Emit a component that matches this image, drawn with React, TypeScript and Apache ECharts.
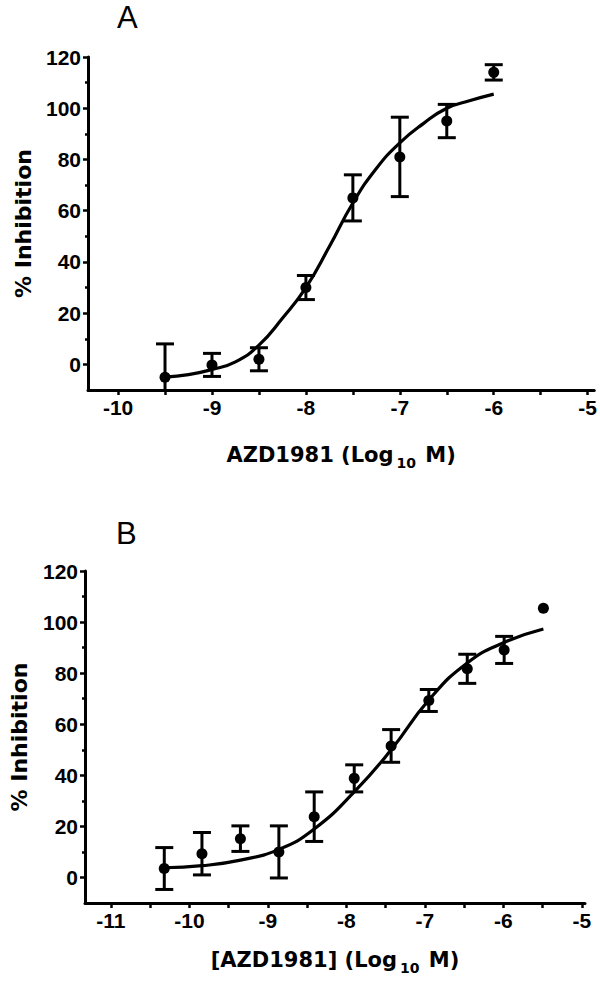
import React, { useEffect, useRef } from 'react';
import * as echarts from 'echarts';

// ---------- Panel A data ----------
const xA = [-9.5, -9, -8.5, -8, -7.5, -7, -6.5, -6];
const yA = [-5, -0.2, 2, 30, 65, 81, 95, 114];
const errA = [13, 4.5, 4.5, 4.7, 9, 15.5, 6.5, 3];
const curveXA = [-9.5, -9.25, -9, -8.75, -8.5, -8.25, -8, -7.75, -7.5, -7.25, -7, -6.75, -6.5, -6.25, -6];
const curveYA = [-5, -4, -2, 1, 7.5, 18, 30, 46, 63, 76.5, 86.5, 94, 100, 103, 105.5];

// ---------- Panel B data ----------
const xB = [-10.32, -9.84, -9.35, -8.86, -8.41, -7.9, -7.43, -6.95, -6.46, -5.99, -5.49];
const yB = [3.5, 9.3, 15.2, 10, 23.8, 38.8, 51.5, 69.3, 81.7, 89.1, 105.4];
const errB = [8.2, 8.3, 5, 10.2, 9.7, 5.3, 6.4, 4.3, 5.7, 5.3, 0];
const curveXB = [-10.32, -9.84, -9.35, -8.86, -8.41, -7.9, -7.43, -6.95, -6.46, -5.99, -5.49];
const curveYB = [3.8, 4.6, 6.8, 11, 19, 33.5, 50, 69.5, 84, 92, 97.3];

// ---------- Axis ticks / labels ----------
const yLabels = [0, 20, 40, 60, 80, 100, 120];
const yMinorTicks = [10, 30, 50, 70, 90, 110];
const xTicksA = [-10, -9.5, -9, -8.5, -8, -7.5, -7, -6.5, -6, -5.5, -5];
const xLabelsA = [-10, -9, -8, -7, -6, -5];
const xTicksB = [-11, -10.5, -10, -9.5, -9, -8.5, -8, -7.5, -7, -6.5, -6, -5.5, -5];
const xLabelsB = [-11, -10, -9, -8, -7, -6, -5];

const xNameA = 'AZD1981 (Log{sub|10} M)';
const xNameB = '[AZD1981] (Log{sub|10} M)';
const yName = '% Inhibition';

const FONT = '"Liberation Sans", Arial, sans-serif';
const TFONT = '"DejaVu Sans", sans-serif';

const zip = (xs: number[], ys: number[]) => xs.map((x, i) => [x, ys[i]]);
const zip3 = (xs: number[], ys: number[], es: number[]) => xs.map((x, i) => [x, ys[i], es[i]]);

function errorSeries(axisIdx: number, data: number[][]) {
  return {
    type: 'custom',
    xAxisIndex: axisIdx,
    yAxisIndex: axisIdx * 2,
    clip: true,
    z: 3,
    data,
    renderItem: (params: any, api: any) => {
      const x = api.value(0);
      const y = api.value(1);
      const e = api.value(2);
      if (!e) return { type: 'group', children: [] };
      const t = api.coord([x, y + e]);
      const b = api.coord([x, y - e]);
      const hw = 9;
      const style = { stroke: '#000', lineWidth: 3 };
      return {
        type: 'group',
        children: [
          { type: 'line', shape: { x1: t[0], y1: t[1], x2: b[0], y2: b[1] }, style },
          { type: 'line', shape: { x1: t[0] - hw, y1: t[1], x2: t[0] + hw, y2: t[1] }, style },
          { type: 'line', shape: { x1: b[0] - hw, y1: b[1], x2: b[0] + hw, y2: b[1] }, style },
        ],
      };
    },
  };
}

function xAxisCfg(grid: number, min: number, max: number, ticks: number[], labels: number[], name: string, gap: number) {
  return {
    type: 'value',
    gridIndex: grid,
    min,
    max,
    axisLine: { onZero: false, lineStyle: { color: '#000', width: 3 } },
    axisTick: { customValues: ticks, length: 5, lineStyle: { color: '#000', width: 2.5 } },
    axisLabel: { customValues: labels, fontFamily: FONT, fontWeight: 'bold', fontSize: 21, color: '#000', margin: 7 },
    splitLine: { show: false },
    name,
    nameLocation: 'middle',
    nameGap: gap,
    nameTextStyle: {
      fontFamily: TFONT,
      fontWeight: 'bold',
      fontSize: 21,
      color: '#000',
      lineHeight: 30,
      rich: {
        sub: { fontFamily: TFONT, fontWeight: 'bold', fontSize: 14, color: '#000', verticalAlign: 'bottom', lineHeight: 30, padding: [0, 2, 0, 3] },
      },
    },
  };
}

function yAxisCfg(grid: number, gap: number) {
  return {
    type: 'value',
    gridIndex: grid,
    position: 'left',
    min: -10,
    max: 120,
    axisLine: { onZero: false, lineStyle: { color: '#000', width: 3 } },
    axisTick: { customValues: yLabels, length: 5, lineStyle: { color: '#000', width: 2.5 } },
    axisLabel: { customValues: yLabels, fontFamily: FONT, fontWeight: 'bold', fontSize: 21, color: '#000', margin: 7 },
    splitLine: { show: false },
    name: yName,
    nameLocation: 'middle',
    nameGap: gap,
    nameTextStyle: { fontFamily: TFONT, fontWeight: 'bold', fontSize: 22, color: '#000' },
  };
}

function yMinorCfg(grid: number) {
  return {
    type: 'value',
    gridIndex: grid,
    position: 'left',
    min: -10,
    max: 120,
    axisLine: { show: false, onZero: false },
    axisTick: { customValues: yMinorTicks, length: 3, lineStyle: { color: '#000', width: 2.5 } },
    axisLabel: { show: false },
    splitLine: { show: false },
  };
}

export default function App() {
  const ref = useRef<HTMLDivElement>(null);
  useEffect(() => {
    if (!ref.current) return;
    const chart = echarts.init(ref.current, null, { renderer: 'svg' });
    const titleStyle = { fontFamily: FONT, fontWeight: 'normal', fontSize: 31, color: '#000' };
    chart.setOption({
      animation: false,
      backgroundColor: '#fff',
      title: [
        { text: 'A', left: 117, top: 2, padding: 0, textStyle: titleStyle },
        { text: 'B', left: 116, top: 518, padding: 0, textStyle: titleStyle },
      ],
      grid: [
        { left: 88, top: 57, width: 510, height: 333 },
        { left: 82, top: 571, width: 503, height: 332 },
      ],
      xAxis: [
        xAxisCfg(0, -10.32, -4.93, xTicksA, xLabelsA, xNameA, 50),
        xAxisCfg(1, -11.33, -4.96, xTicksB, xLabelsB, xNameB, 42),
      ],
      yAxis: [yAxisCfg(0, 54), yMinorCfg(0), yAxisCfg(1, 55), yMinorCfg(1)],
      series: [
        {
          type: 'line', xAxisIndex: 0, yAxisIndex: 0, data: zip(curveXA, curveYA), smooth: true,
          showSymbol: false, lineStyle: { color: '#000', width: 3.2 }, z: 2,
        },
        errorSeries(0, zip3(xA, yA, errA)),
        {
          type: 'scatter', xAxisIndex: 0, yAxisIndex: 0, data: zip(xA, yA), symbol: 'circle', symbolSize: 11,
          itemStyle: { color: '#000', opacity: 1 }, z: 4,
        },
        {
          type: 'line', xAxisIndex: 1, yAxisIndex: 2, data: zip(curveXB, curveYB), smooth: true,
          showSymbol: false, lineStyle: { color: '#000', width: 3.2 }, z: 2,
        },
        errorSeries(1, zip3(xB, yB, errB)),
        {
          type: 'scatter', xAxisIndex: 1, yAxisIndex: 2, data: zip(xB, yB), symbol: 'circle', symbolSize: 11,
          itemStyle: { color: '#000', opacity: 1 }, z: 4,
        },
      ],
    });
    return () => chart.dispose();
  }, []);
  return <div ref={ref} style={{ position: 'absolute', left: 0, top: 0, width: 600, height: 984 }} />;
}
